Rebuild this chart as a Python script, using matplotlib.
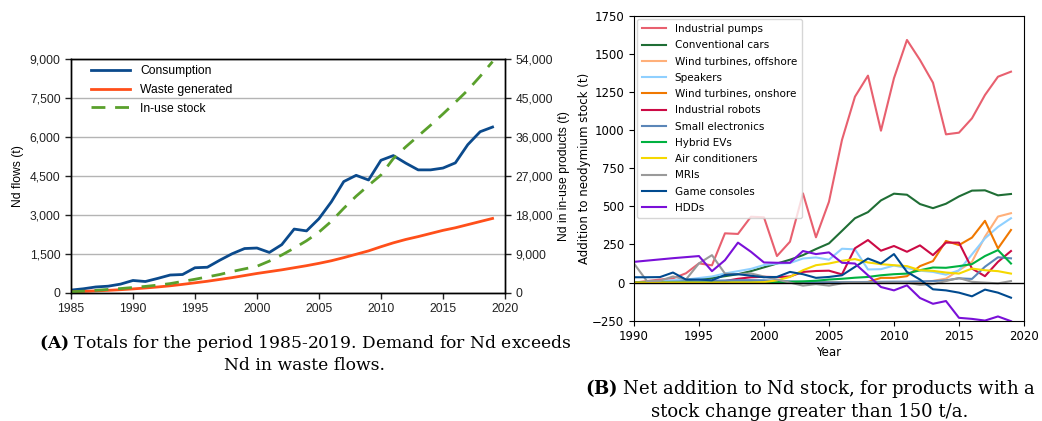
import numpy as np
import matplotlib
matplotlib.use("Agg")
from matplotlib import pyplot as plt
from matplotlib.ticker import FuncFormatter

plt.rcParams["mathtext.fontset"] = "dejavuserif"

# ---- panel A data (t) ----
years_a = np.arange(1985, 2020)
consumption = [100, 150, 220, 250, 330, 470, 430, 550, 680, 700,
               960, 980, 1250, 1500, 1700, 1720, 1550, 1850, 2450, 2380,
               2850, 3500, 4280, 4520, 4340, 5100, 5280, 4990, 4730, 4730,
               4800, 5000, 5700, 6200, 6380]
waste = [30, 50, 70, 90, 115, 145, 180, 220, 265, 320,
         380, 440, 510, 580, 660, 740, 810, 880, 960, 1040,
         1130, 1230, 1350, 1480, 1610, 1770, 1920, 2050, 2160, 2280,
         2400, 2500, 2620, 2740, 2860]
in_use_stock = [200, 350, 550, 750, 950, 1200, 1450, 1750, 2100, 2600,
                3100, 3650, 4200, 4900, 5500, 6100, 7300, 8700, 10300, 12000,
                14000, 16500, 19500, 22300, 24800, 27200, 31000, 33700, 36200, 38700,
                41300, 44000, 46800, 50000, 53400]

# ---- panel B data (t/a) ----
years_b = np.arange(1990, 2020)
products = ["Industrial pumps", "Conventional cars", "Wind turbines, offshore",
            "Speakers", "Wind turbines, onshore", "Industrial robots",
            "Small electronics", "Hybrid EVs", "Air conditioners", "MRIs",
            "Game consoles", "HDDs"]
pumps = [0, 10, 20, 28, 61, 126, 113, 323, 319, 432,
         428, 174, 268, 585, 297, 530, 935, 1219, 1357, 996,
         1340, 1591, 1460, 1311, 972, 983, 1077, 1230, 1350, 1383]
cars = [0, 3, 6, 10, 15, 22, 30, 42, 55, 75,
        100, 125, 150, 180, 220, 257, 339, 422, 462, 539,
        583, 576, 515, 488, 517, 565, 603, 605, 572, 581]
wind_off = [0, 0, 0, 0, 0, 0, 0, 0, 0, 0,
            0, 0, 0, 0, 0, 0, 0, 0, 0, 0,
            0, 0, 3, 11, 26, 81, 136, 301, 433, 455]
speakers = [0, 5, 10, 15, 20, 30, 40, 60, 75, 90,
            115, 125, 128, 158, 165, 150, 222, 218, 86, 88,
            112, 95, 78, 70, 52, 80, 185, 290, 365, 422]
wind_on = [0, 0, 0, 0, 0, 0, 0, 0, 0, 0,
           0, 0, 0, 0, 0, 0, 0, 0, 4, 31,
           31, 42, 108, 141, 273, 246, 295, 405, 224, 345]
robots = [0, 0, 1, 2, 3, 5, 5, 10, 25, 35,
          38, 36, 40, 70, 76, 78, 54, 225, 279, 209,
          240, 202, 244, 180, 262, 262, 92, 42, 136, 207]
small_elec = [0, 2, 4, 6, 8, 10, 12, 14, 16, 16,
              15, 12, 8, 5, 3, 2, 2, 3, 4, 5,
              6, 6, 8, 10, 15, 28, 24, 104, 166, 159]
hybrid = [0, 0, 0, 0, 0, 0, 0, 0, 0, 0,
          0, 3, 5, 8, 12, 20, 25, 32, 37, 48,
          55, 59, 81, 99, 97, 108, 121, 174, 213, 125]
aircon = [0, 0, 0, 0, 0, 0, 0, 0, 0, 0,
          3, 15, 37, 81, 114, 125, 143, 154, 132, 121,
          114, 108, 81, 77, 66, 59, 92, 81, 75, 59]
mri = [125, 10, 12, 40, 20, 126, 180, 59, 55, 60,
       40, 20, 0, -20, -10, -20, -5, 0, 0, 0,
       0, 0, -15, -10, 10, 30, 5, 0, -5, 10]
consoles = [35, 35, 36, 66, 20, 20, 15, 50, 55, 45,
            35, 37, 70, 55, 31, 37, 48, 103, 158, 125,
            187, 70, 20, -44, -51, -66, -90, -46, -66, -99]
hdds = [136, 144, 152, 160, 167, 174, 75, 147, 262, 202,
        132, 130, 130, 207, 187, 198, 130, 125, 48, -29,
        -51, -18, -101, -139, -121, -231, -238, -249, -222, -253]
series_b = [pumps, cars, wind_off, speakers, wind_on, robots,
            small_elec, hybrid, aircon, mri, consoles, hdds]
colors_b = ["#e8606f", "#1f6e35", "#ffb07a", "#8fd0ff", "#f07800", "#cc0a45",
            "#5b86b8", "#00b140", "#f5d800", "#9a9a9a", "#004a8f", "#7a10d8"]

fig = plt.figure(figsize=(10.42, 4.21), dpi=100)

# ---------------- panel A ----------------
sans = ["Liberation Sans", "DejaVu Sans"]
ax1 = fig.add_axes([0.0681, 0.3048, 0.4165, 0.555])
ax2 = ax1.twinx()
l1, = ax1.plot(years_a, consumption, color="#0b4a8c", lw=2.0, label="Consumption")
l2, = ax1.plot(years_a, waste, color="#ff4f1a", lw=2.0, label="Waste generated")
l3, = ax2.plot(years_a, in_use_stock, color="#5aa02c", lw=2.0, ls=(0, (5, 3.5)),
               label="In-use stock")
ax1.set_xlim(1985, 2020)
ax1.set_ylim(0, 9000)
ax2.set_ylim(0, 54000)
ax1.set_xticks(range(1985, 2021, 5))
ax1.set_yticks(range(0, 9001, 1500))
ax2.set_yticks(range(0, 54001, 9000))
fmt = FuncFormatter(lambda v, p: f"{int(v):,}")
ax1.yaxis.set_major_formatter(fmt)
ax2.yaxis.set_major_formatter(fmt)
ax1.grid(axis="y", color="#b4b4b4", lw=1)
ax1.set_axisbelow(True)
for a in (ax1, ax2):
    a.tick_params(labelsize=8.7, length=4, width=1, colors="#222222")
    for lab in a.get_xticklabels() + a.get_yticklabels():
        lab.set_family(sans)
    for s in a.spines.values():
        s.set_linewidth(1)
ax1.set_ylabel("Nd flows (t)", family=sans, fontsize=8.7)
ax2.set_ylabel("Nd in in-use products (t)", family=sans, fontsize=8.7)
ax1.legend(handles=[l1, l2, l3], loc="upper left", frameon=False,
           prop={"family": sans, "size": 8.7}, handlelength=3.3,
           bbox_to_anchor=(0.02, 1.02), labelspacing=0.55)

# ---------------- panel B ----------------
ax3 = fig.add_axes([0.6084, 0.2382, 0.3743, 0.7245])
for name, vals, c in zip(products, series_b, colors_b):
    ax3.plot(years_b, vals, color=c, lw=1.5, label=name)
ax3.axhline(0, color="black", lw=1)
ax3.set_xlim(1990, 2020)
ax3.set_ylim(-250, 1750)
ax3.set_yticks(range(-250, 1751, 250))
ax3.tick_params(labelsize=8.5)
ax3.set_xlabel("Year", fontsize=8.5, labelpad=2)
ax3.set_ylabel("Addition to neodymium stock (t)", fontsize=8.5, labelpad=1)
ax3.legend(loc="upper left", fontsize=7.5, labelspacing=0.6, borderaxespad=0.3,
           handlelength=2.3, borderpad=0.5)

# ---------------- captions ----------------
cap = dict(ha="center", va="center", family="DejaVu Serif", fontsize=12.3)
fig.text(305 / 1042, 1 - 343 / 421,
         r"$\mathbf{(A)}$ Totals for the period 1985-2019. Demand for Nd exceeds", **cap)
fig.text(305 / 1042, 1 - 366 / 421, "Nd in waste flows.", **cap)
cap["fontsize"] = 13.0
fig.text(810 / 1042, 1 - 389 / 421,
         r"$\mathbf{(B)}$ Net addition to Nd stock, for products with a", **cap)
fig.text(810 / 1042, 1 - 412 / 421, "stock change greater than 150 t/a.", **cap)

fig.savefig("out.png", dpi=100)
